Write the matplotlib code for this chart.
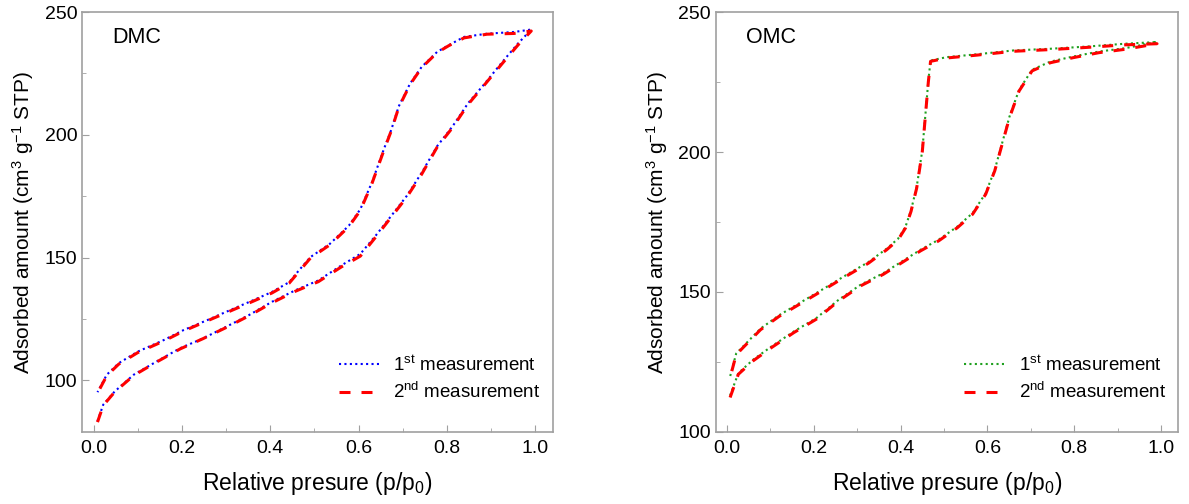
import matplotlib
matplotlib.use("Agg")
from matplotlib import pyplot as plt
from matplotlib.ticker import MultipleLocator

plt.rcParams['font.family'] = ['Liberation Sans', 'DejaVu Sans']
plt.rcParams['mathtext.fontset'] = 'custom'
plt.rcParams['mathtext.rm'] = 'Liberation Sans'
plt.rcParams['mathtext.it'] = 'Liberation Sans:italic'

# DMC, adsorption branch then desorption branch (one closed loop)
dmc_ads_x = [0.009, 0.022, 0.048, 0.091, 0.143, 0.196, 0.248, 0.300, 0.352, 0.404, 0.457,
             0.509, 0.561, 0.604, 0.639, 0.674, 0.709, 0.743, 0.778, 0.813, 0.848, 0.883,
             0.926, 0.961, 0.991]
dmc_ads_1 = [83.4, 90.1, 95.5, 102.3, 107.7, 113.1, 117.1, 121.8, 126.6, 132.0, 136.7,
             140.7, 146.8, 151.5, 159.0, 167.0, 175.1, 184.6, 195.4, 203.5, 212.9, 220.3,
             229.8, 237.2, 242.9]
dmc_ads_2 = [83.0, 89.8, 95.3, 102.0, 107.5, 112.8, 117.0, 121.5, 126.3, 131.6, 136.3,
             140.2, 146.2, 150.6, 158.4, 166.5, 174.6, 184.0, 195.0, 203.0, 212.4, 219.9,
             229.2, 236.6, 242.3]
dmc_des_x = [0.991, 0.952, 0.891, 0.839, 0.804, 0.778, 0.743, 0.717, 0.691, 0.674, 0.657,
             0.630, 0.604, 0.578, 0.535, 0.491, 0.465, 0.443, 0.404, 0.361, 0.309, 0.257,
             0.204, 0.160, 0.100, 0.057, 0.030, 0.009]
dmc_des_1 = [242.9, 241.9, 241.2, 239.9, 236.5, 233.8, 227.7, 221.0, 211.6, 202.0, 194.0,
             180.5, 169.7, 163.0, 155.6, 150.2, 144.8, 140.0, 136.0, 132.6, 128.6, 124.5,
             120.5, 116.5, 111.7, 107.0, 102.3, 95.2]
dmc_des_2 = [242.3, 241.3, 241.0, 239.5, 236.3, 233.5, 227.4, 220.6, 211.2, 201.6, 193.5,
             180.0, 169.2, 162.6, 155.2, 149.8, 144.3, 139.6, 135.6, 132.2, 128.2, 124.2,
             120.1, 116.1, 111.3, 106.6, 101.9, 94.8]

# OMC
omc_ads_x = [0.007, 0.026, 0.060, 0.103, 0.154, 0.206, 0.257, 0.308, 0.360, 0.403, 0.446,
             0.488, 0.531, 0.566, 0.596, 0.617, 0.634, 0.651, 0.673, 0.703, 0.745, 0.797,
             0.857, 0.917, 0.991]
omc_ads_1 = [113.0, 121.0, 125.8, 130.6, 135.9, 140.7, 147.2, 152.6, 156.7, 160.9, 165.1,
             168.7, 173.4, 178.2, 185.3, 193.7, 203.2, 212.7, 222.2, 229.4, 232.3, 234.1,
             235.9, 237.1, 239.3]
omc_ads_2 = [112.3, 120.6, 125.4, 130.2, 135.5, 140.3, 146.8, 152.2, 156.3, 160.5, 164.7,
             168.3, 173.0, 177.8, 184.9, 193.3, 202.8, 212.3, 221.8, 229.0, 231.9, 233.7,
             235.5, 236.7, 238.7]
omc_des_x = [0.991, 0.917, 0.831, 0.745, 0.660, 0.574, 0.506, 0.469, 0.464, 0.458, 0.450,
             0.437, 0.424, 0.411, 0.394, 0.368, 0.326, 0.274, 0.223, 0.171, 0.120, 0.077,
             0.043, 0.021, 0.007]
omc_des_1 = [239.3, 238.7, 237.7, 236.9, 236.3, 234.9, 233.9, 232.7, 225.6, 214.9, 200.6,
             187.5, 179.2, 173.2, 169.0, 165.5, 160.7, 156.0, 151.2, 146.4, 141.7, 136.9,
             131.5, 128.0, 119.8]
omc_des_2 = [238.7, 238.3, 237.4, 236.6, 236.0, 234.6, 233.6, 232.4, 225.2, 214.5, 200.2,
             187.1, 178.8, 172.8, 168.6, 165.1, 160.3, 155.6, 150.8, 146.0, 141.3, 136.5,
             131.1, 127.6, 119.4]

panels = [
    ("DMC", dmc_ads_x, dmc_ads_1, dmc_ads_2, dmc_des_x, dmc_des_1, dmc_des_2, 'blue', (79, 250)),
    ("OMC", omc_ads_x, omc_ads_1, omc_ads_2, omc_des_x, omc_des_1, omc_des_2, '#1fa01f', (100, 250)),
]

fig = plt.figure(figsize=(11.89, 5.04), dpi=100)
boxes = [[0.0690, 0.143, 0.396, 0.833], [0.602, 0.143, 0.389, 0.833]]
grey = '#a0a0a0'

for box, (name, ax_x, a1, a2, dx, d1, d2, col, ylim) in zip(boxes, panels):
    ax = fig.add_axes(box)
    x_all = ax_x + dx
    ax.plot(x_all, a1 + d1, linestyle=(0, (1, 1.6)), color=col, lw=1.5,
            label='1$^{\\mathrm{st}}$ measurement', zorder=2)
    ax.plot(x_all, a2 + d2, linestyle=(0, (3.6, 3.6)), color='red', lw=2.2,
            label='2$^{\\mathrm{nd}}$ measurement', zorder=3)
    ax.set_xlim(-0.026, 1.04)
    ax.set_ylim(*ylim)
    ax.xaxis.set_major_locator(MultipleLocator(0.2))
    ax.xaxis.set_minor_locator(MultipleLocator(0.1))
    ax.yaxis.set_major_locator(MultipleLocator(50))
    ax.yaxis.set_minor_locator(MultipleLocator(25))
    ax.xaxis.set_major_formatter(plt.FuncFormatter(lambda v, p: f"{v:.1f}"))
    ax.tick_params(which='both', direction='in', color=grey, labelsize=14)
    ax.tick_params(axis='x', pad=6)
    ax.tick_params(which='major', length=5)
    ax.tick_params(which='minor', length=3)
    for s in ax.spines.values():
        s.set_color(grey)
        s.set_linewidth(1.2)
    ax.set_xlabel('Relative presure (p/p$_0$)', fontsize=16.5, labelpad=9)
    ax.set_ylabel('Adsorbed amount (cm$^3$ g$^{-1}$ STP)', fontsize=15, labelpad=6)
    ax.text(0.065, 0.94, name, transform=ax.transAxes, fontsize=15.5, va='center')
    ax.legend(loc='lower right', frameon=False, fontsize=13.5, handlelength=2.3,
              handletextpad=0.6, labelspacing=0.4, bbox_to_anchor=(1.01, 0.03))

fig.savefig('out.png', dpi=100)
